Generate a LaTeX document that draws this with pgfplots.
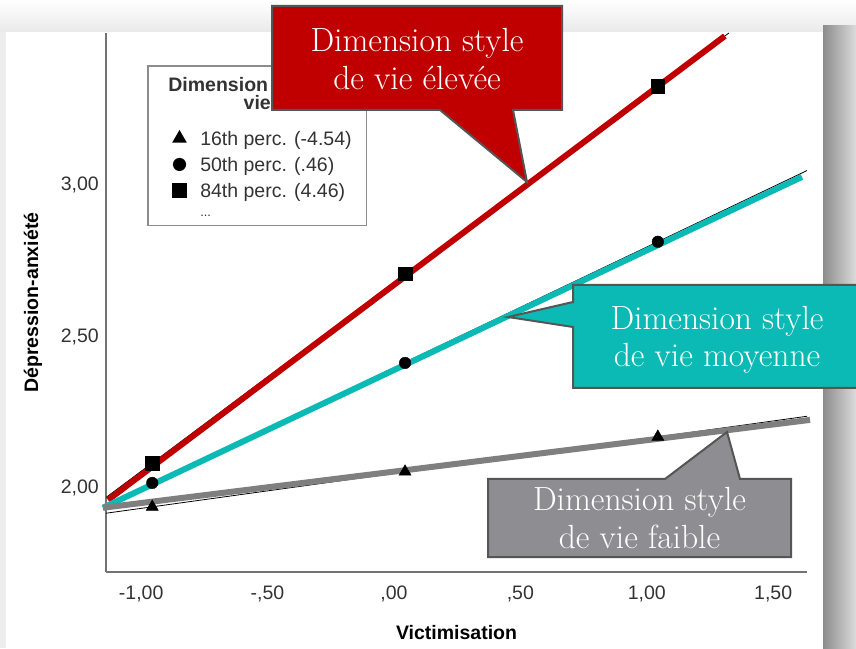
\documentclass[border=0pt]{standalone}
\usepackage{fontspec}
\usepackage{pgfplots}
\pgfplotsset{compat=1.18}
\newfontfamily\arial{Liberation Sans}
\definecolor{callred}{HTML}{C00000}
\definecolor{callcyan}{HTML}{0BBAB4}
\definecolor{callgray}{HTML}{8E8D92}
\definecolor{linegray}{HTML}{7F7F7F}
\definecolor{framegray}{HTML}{555555}
\newcommand{\spss}{\arial\fontsize{19.5}{18.5}\selectfont}
\newcommand{\callfont}{\fontsize{33.5}{38}\selectfont}
\pgfplotsset{mark legend/.style={legend image code/.code={\path (-31pt,0pt) (20pt,0pt); \draw[##1] plot coordinates {(0pt,0pt)};}}}

\begin{document}
\begin{tikzpicture}
\useasboundingbox (0pt,0pt) rectangle (856pt,648pt);
\clip (0pt,0pt) rectangle (856pt,648pt);
% screenshot backdrop with shadow
\begin{scope}[x=1pt,y=1pt]
\fill[white] (0,0) rectangle (856,648);
\shade[top color=white, bottom color=black!9] (0,648) rectangle (856,614);
\fill[black!7] (0,0) rectangle (6,616);
\shade[left color=black!45, right color=black!14] (823,0) rectangle (856,622);
\fill[white] (6,0) rectangle (823,616);
\end{scope}

\begin{axis}[
  at={(106pt,76pt)}, anchor=south west,
  width=701pt, height=539pt, scale only axis,
  xmin=-1.139, xmax=1.634, ymin=1.719, ymax=3.498,
  axis x line*=bottom, axis y line*=left,
  axis line style={black!55, line width=1.2pt, -},
  major tick length=0pt,
  xtick={-1,-0.5,0,0.5,1,1.5},
  xticklabels={{-1,00},{-,50},{,00},{,50},{1,00},{1,50}},
  ytick={2,2.5,3},
  yticklabels={{2,00},{2,50},{3,00}},
  xticklabel style={font=\spss, text=black!80, inner sep=0pt, anchor=north, yshift=-14pt},
  yticklabel style={font=\spss, text=black!80, inner sep=0pt, anchor=base east, xshift=-7pt, yshift=-7pt},
  xlabel={Victimisation},
  ylabel={Dépression-anxiété},
  xlabel style={font=\spss\bfseries, at={(axis description cs:0.5,-0.113)}, anchor=center},
  ylabel style={font=\spss\bfseries, at={(axis description cs:-0.1041,0.5)}, anchor=center},
  legend style={at={(0.0585,0.9406)}, anchor=north west, draw=black!45, line width=1.5pt,
    fill=white, inner sep=0pt, row sep=0pt, column sep=0pt, font=\spss, text=black!80,
    nodes={inner sep=0pt}},
  legend cell align=left,
  clip=false,
]
% fitted lines (thin)
\addplot[black, line width=0.8pt, forget plot] coordinates {(-1.139,1.965) (1.325,3.498)};
\addplot[black, line width=0.8pt, forget plot] coordinates {(-1.139,1.940) (1.634,3.044)};
\addplot[black, line width=0.8pt, forget plot] coordinates {(-1.139,1.913) (1.634,2.233)};

\addlegendimage{empty legend}
\addlegendentry[text height=44pt, text depth=15.7pt]{\hspace*{-34pt}\parbox[b]{182pt}{\centering\bfseries Dimension style de\\vie}}

\addplot[only marks, mark=triangle*, mark size=7pt, black, mark legend] coordinates {
  (-0.956,1.934) (0.044,2.050) (1.044,2.165)};
\addlegendentry[text height=20.3pt, text depth=5.7pt]{16th perc. (-4.54)}
\addplot[only marks, mark=*, mark size=5.8pt, black, mark legend] coordinates {
  (-0.956,2.013) (0.044,2.409) (1.044,2.809)};
\addlegendentry[text height=20.3pt, text depth=5.7pt]{50th perc. (.46)}
\addplot[only marks, mark=square*, mark size=6.8pt, black, mark legend] coordinates {
  (-0.956,2.079) (0.044,2.703) (1.044,3.323)};
\addlegendentry[text height=20.3pt, text depth=5.7pt]{84th perc. (4.46)}

\addlegendimage{empty legend}
\addlegendentry[text height=13.5pt, text depth=8.5pt]{\makebox[166pt][l]{\fontsize{13}{13}\selectfont ...}}

% highlighted lines
\addplot[callred, line width=6pt, forget plot] coordinates {(-1.131,1.957) (1.309,3.488)};
\addplot[callcyan, line width=6pt, forget plot] coordinates {(-1.151,1.931) (1.614,3.023)};
\addplot[linegray, line width=6pt, forget plot] coordinates {(-1.151,1.931) (1.646,2.221)};
\end{axis}

% callouts
\begin{scope}[x=1pt,y=1pt]
\filldraw[fill=callred, draw=framegray, line width=2pt, line join=miter]
  (272,642) -- (562,642) -- (562,538) -- (513,538) -- (527,466) -- (440,538) -- (272,538) -- cycle;
\node[anchor=base, text=white, font=\callfont, inner sep=0pt] at (417,596) {Dimension style};
\node[anchor=base, text=white, font=\callfont, inner sep=0pt] at (417,558) {de vie élevée};

\filldraw[fill=callcyan, draw=framegray, line width=2pt, line join=miter]
  (573,363) -- (861,363) -- (861,260) -- (573,260) -- (573,321) -- (508,331) -- (573,346) -- cycle;
\node[anchor=base, text=white, font=\callfont, inner sep=0pt] at (717,318) {Dimension style};
\node[anchor=base, text=white, font=\callfont, inner sep=0pt] at (717,281) {de vie moyenne};

\filldraw[fill=callgray, draw=framegray, line width=2pt, line join=miter]
  (488,169) -- (665,169) -- (727,216) -- (740,169) -- (791,169) -- (791,91) -- (488,91) -- cycle;
\node[anchor=base, text=white, font=\callfont, inner sep=0pt] at (639.5,138) {Dimension style};
\node[anchor=base, text=white, font=\callfont, inner sep=0pt] at (639.5,100) {de vie faible};
\end{scope}
\end{tikzpicture}
\end{document}
